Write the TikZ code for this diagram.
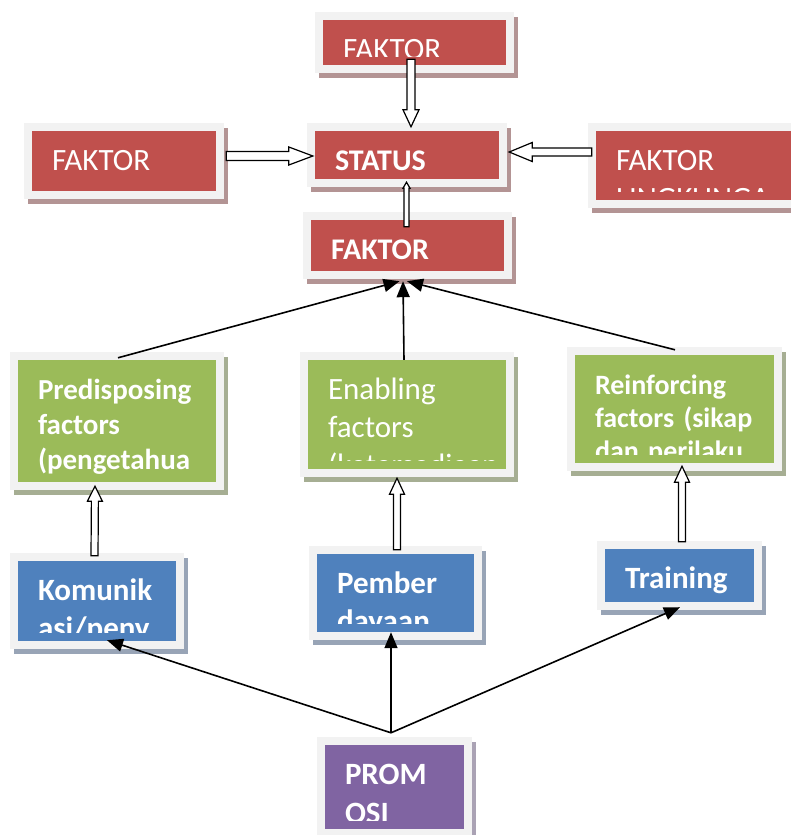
\documentclass[tikz,border=0pt]{standalone}
\usepackage{fontspec}
\setmainfont{Carlito}
\usetikzlibrary{calc,arrows.meta,shadows}
\definecolor{merah}{HTML}{C0504D}
\definecolor{hijau}{HTML}{9BBB59}
\definecolor{biru}{HTML}{4F81BD}
\definecolor{ungu}{HTML}{8064A2}
\definecolor{bingkai}{HTML}{F2F2F2}
\definecolor{bymerah}{HTML}{B39494}
\definecolor{byhijau}{HTML}{A6AE93}
\definecolor{bybiru}{HTML}{98A4B6}
\definecolor{byungu}{HTML}{AAA2B4}
\tikzstyle{kotakluar}=[rectangle, fill=bingkai, inner sep=0pt]
\tikzstyle{teks}=[anchor=base west, text=white, inner sep=0pt, align=left, text width=400pt]
\tikzstyle{l1}=[line width=1.2pt]
\tikzstyle{l2}=[line width=1.6pt, -{Triangle[length=16pt,width=13pt]}]
% box: name, centre, width, height, fill, shadow, font, text
\newcommand{\kotak}[8]{%
  \node[kotakluar, minimum width=#3, minimum height=#4,
        general shadow={fill=#6, shadow xshift=4pt, shadow yshift=-5pt}] (#1) at (#2) {};
  \fill[#5] ([shift={(8,8)}]#1.north west) rectangle ([shift={(-8,-8)}]#1.south east);
  \begin{scope}
    \clip ([shift={(8,8)}]#1.north west) rectangle ([shift={(-8,-17)}]#1.south east);
    \node[teks, font={#7}] at ([shift={(28,48)}]#1.north west) {#8};
  \end{scope}}
% hollow block arrow: start, tip, shaft half width, head half width, head length
\newcommand{\blok}[5]{%
  \path (#1) coordinate (p) (#2) coordinate (q) ($(q)!#5!(p)$) coordinate (h);
  \draw[l1, fill=white] ($(p)!#3!90:(q)$) -- ($(h)!#3!90:(q)$) -- ($(h)!#4!90:(q)$) -- (q)
    -- ($(h)!#4!-90:(q)$) -- ($(h)!#3!-90:(q)$) -- ($(p)!#3!-90:(q)$) -- cycle;}
\begin{document}
\begin{tikzpicture}[x=1pt, y=-1pt]
    \clip (0,0) rectangle (791,835);
    \fill[white] (0,0) rectangle (791,835);

    \kotak{faktorA}{414.5,42.5}{199pt}{61pt}{merah}{bymerah}{\fontsize{31}{38}\selectfont}{FAKTOR}
    \kotak{status}{407,155}{200pt}{64pt}{merah}{bymerah}{\bfseries\fontsize{30}{37}\selectfont}{STATUS}
    \kotak{faktorL}{124,161}{200pt}{76pt}{merah}{bymerah}{\fontsize{31}{38}\selectfont}{FAKTOR}
    \kotak{faktorR}{695.5,165.5}{215pt}{85pt}{merah}{bymerah}{\fontsize{31}{38}\selectfont}{FAKTOR\\LINGKUNGA}
    \kotak{faktorB}{407.5,245.5}{209pt}{67pt}{merah}{bymerah}{\bfseries\fontsize{30}{37}\selectfont}{FAKTOR}

    \kotak{predis}{117,421}{214pt}{138pt}{hijau}{byhijau}{\bfseries\fontsize{29}{35}\selectfont}{Predisposing\\factors\\(pengetahua}
    \kotak{enabl}{407,414.5}{214pt}{125pt}{hijau}{byhijau}{\fontsize{31}{38}\selectfont}{Enabling\\factors\\(ketersediaan}
    \kotak{reinf}{674.5,409}{215pt}{124pt}{hijau}{byhijau}{\bfseries\fontsize{28}{33}\selectfont}{Reinforcing\\factors (sikap\\dan perilaku}

    \kotak{komun}{97,601}{174pt}{96pt}{biru}{bybiru}{\bfseries\fontsize{31}{38}\selectfont}{Komunik\\asi/peny}
    \kotak{pember}{395.5,593}{173pt}{94pt}{biru}{bybiru}{\bfseries\fontsize{31}{38}\selectfont}{Pember\\dayaan}
    \kotak{training}{679.5,575.5}{165pt}{69pt}{biru}{bybiru}{\bfseries\fontsize{31}{38}\selectfont}{Training}

    \kotak{promosi}{394.5,787}{155pt}{100pt}{ungu}{byungu}{\bfseries\fontsize{31}{39}\selectfont}{PROM\\OSI}

    % hollow arrows
    \blok{[shift={(-3.5,-14)}]faktorA.south}{[shift={(4,4)}]status.north}{4pt}{8pt}{17pt}
    \blok{[shift={(2,-5)}]faktorL.east}{[shift={(6,1)}]status.west}{4.5pt}{9pt}{24pt}
    \blok{[shift={(4,-13.5)}]faktorR.west}{[shift={(2,-3)}]status.east}{4pt}{9.5pt}{23pt}
    \blok{[shift={(-1,15)}]faktorB.north}{[shift={(-0.5,-5)}]status.south}{2.5pt}{3.5pt}{6pt}
    \blok{[shift={(-2.5,3)}]komun.north}{[shift={(-22,-4)}]predis.south}{3.5pt}{7.5pt}{15pt}
    \blok{[shift={(1.5,4)}]pember.north}{[shift={(-10,1)}]enabl.south}{3.5pt}{7.5pt}{16pt}
    \blok{[shift={(2.5,1)}]training.north}{[shift={(7.5,-5)}]reinf.south}{3.5pt}{7.5pt}{16pt}

    % factors to FAKTOR
    \draw[l2] ([shift={(1,6)}]predis.north) -- ([shift={(-8,2)}]faktorB.south);
    \draw[l2] ([shift={(-3,8)}]enabl.north) -- ([shift={(-4.5,2)}]faktorB.south);
    \draw[l2] ([shift={(0.5,3)}]reinf.north) -- ([shift={(-0.5,2)}]faktorB.south);

    % PROMOSI to programmes
    \coordinate (cabang) at ([shift={(-3.5,-4)}]promosi.north);
    \draw[l2] (cabang) -- ([shift={(10,-9)}]komun.south);
    \draw[l2] (cabang) -- ([shift={(-4.5,-8)}]pember.south);
    \draw[l2] (cabang) -- ([shift={(0.5,-3)}]training.south);
\end{tikzpicture}
\end{document}
